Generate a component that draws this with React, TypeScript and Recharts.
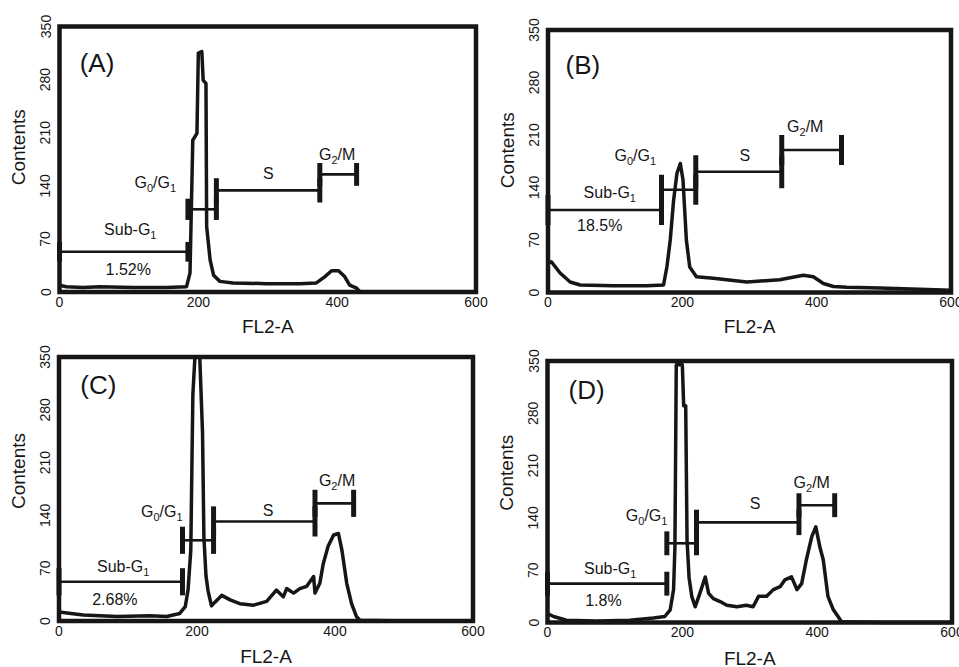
import { LineChart, Line, XAxis, YAxis, ReferenceLine, ReferenceArea, ReferenceDot } from "recharts";

const FONT = "'Liberation Sans', Arial, Helvetica, sans-serif";
const INK = "#161616";

const yTicks = [0, 70, 140, 210, 280, 350];
const xTicks = [0, 200, 400, 600];
const gateNames = ["Sub-G_1", "G_0/G_1", "S", "G_2/M"];

// (A)
const binsA = [0, 10, 34, 58, 106, 154, 183, 188, 192, 198, 200, 205, 207, 211, 212, 217, 222, 231, 250, 298, 346, 370, 382, 392, 402, 411, 418, 428, 433, 500, 600];
const countsA = [9, 7, 6, 7, 6, 6, 7, 25, 200, 209, 315, 317, 279, 275, 86, 42, 22, 14, 12, 11, 11, 12, 20, 28, 28, 20, 9, 5, 0, 0, 0];
const gatesA = [[0, 185, 53], [185, 226, 109], [226, 375, 134], [375, 428, 155]];
const pctA = "1.52%";

// (B)
const binsB = [0, 5, 18, 33, 48, 97, 147, 172, 177, 182, 187, 192, 197, 201, 206, 211, 221, 246, 296, 345, 380, 395, 410, 425, 445, 494, 600];
const countsB = [39, 41, 26, 14, 10, 9, 9, 10, 34, 70, 123, 159, 172, 150, 70, 34, 21, 19, 14, 17, 23, 21, 12, 8, 7, 6, 3];
const gatesB = [[0, 169, 110], [169, 220, 137], [220, 348, 161], [348, 437, 190]];
const pctB = "18.5%";

// (C)
const binsC = [0, 35, 84, 132, 156, 175, 183, 187, 191, 194, 197, 204, 208, 210, 213, 216, 221, 226, 236, 248, 262, 282, 301, 315, 325, 330, 340, 349, 359, 369, 371, 378, 383, 390, 398, 405, 410, 417, 424, 431, 436, 500, 600];
const countsC = [12, 8, 6, 7, 6, 10, 19, 41, 94, 300, 350, 350, 250, 111, 60, 40, 20, 25, 34, 28, 23, 21, 26, 41, 32, 43, 37, 43, 46, 59, 37, 50, 76, 99, 114, 116, 94, 50, 23, 6, 1, 0, 0];
const gatesC = [[0, 179, 52], [179, 224, 107], [224, 371, 132], [371, 427, 156]];
const pctC = "2.68%";

// (D)
const binsD = [0, 9, 28, 73, 122, 157, 174, 182, 187, 189, 191, 200, 202, 205, 207, 210, 214, 219, 226, 234, 239, 246, 256, 266, 281, 295, 305, 313, 325, 335, 345, 352, 362, 370, 377, 384, 392, 398, 404, 409, 416, 424, 431, 436, 500, 600];
const countsD = [12, 8, 3, 2, 3, 6, 8, 17, 44, 101, 345, 345, 290, 290, 110, 60, 35, 21, 39, 61, 39, 32, 28, 23, 21, 23, 21, 35, 35, 44, 48, 57, 61, 44, 52, 84, 115, 128, 101, 84, 35, 17, 8, 1, 0, 0];
const gatesD = [[0, 177, 52], [177, 221, 106], [221, 373, 134], [373, 426, 157]];
const pctD = "1.8%";

// layout per panel; labelAt = text anchors in data units: tag, Sub-G1, %, G0/G1, S, G2/M
const panels = [
  {
    id: "A", left: 0, top: 0, w: 500, h: 340, margin: { top: 26.5, right: 24, bottom: 18, left: 19.5 },
    bins: binsA, counts: countsA, gates: gatesA, pct: pctA, bar: [13, 14, 16, 15],
    titleDy: -12, xTitleDy: 41,
    labelAt: [[54, 302], [102, 82], [99, 30], [138, 144], [301, 156], [400, 181]],
  },
  {
    id: "B", left: 480, top: 0, w: 480, h: 340, margin: { top: 30, right: 9, bottom: 17.5, left: 28 },
    bins: binsB, counts: countsB, gates: gatesB, pct: pctB, bar: [20, 20, 22, 20],
    titleDy: -11, xTitleDy: 40.5,
    labelAt: [[52, 303], [92, 134], [77, 90], [130, 183], [293, 183], [383, 222]],
  },
  {
    id: "C", left: 0, top: 333, w: 500, h: 334, margin: { top: 24, right: 27, bottom: 16, left: 19 },
    bins: binsC, counts: countsC, gates: gatesC, pct: pctC, bar: [18, 18, 20, 18],
    titleDy: -18, xTitleDy: 41.5,
    labelAt: [[57, 313], [93, 72], [81, 28], [149, 145], [303, 147], [403, 186]],
  },
  {
    id: "D", left: 480, top: 333, w: 480, h: 334, margin: { top: 28, right: 8, bottom: 14.5, left: 27.5 },
    bins: binsD, counts: countsD, gates: gatesD, pct: pctD, bar: [16, 16, 17, 16],
    titleDy: -19, xTitleDy: 42,
    labelAt: [[58, 311], [93, 72], [83, 30], [147, 144], [308, 160], [392, 188]],
  },
];

const YTick = ({ x, y, payload }: any) => (
  <text x={x} y={y} transform={`rotate(-90 ${x} ${y})`} textAnchor="middle" fontSize={14} fill={INK} fontFamily={FONT}>
    {payload.value}
  </text>
);

// "G_0/G_1" -> G with subscript 0 etc.
const Rich = ({ x, y, text, size }: any) => {
  const parts = String(text).split(/_(\d)/);
  const sub = Math.round(size * 0.68);
  const shift = Math.round(size * 0.28);
  return (
    <text x={x} y={y + size * 0.35} textAnchor="middle" fontSize={size} fill={INK} fontFamily={FONT}>
      {parts.map((p, i) =>
        i % 2 === 1 ? (
          <tspan key={i} dy={shift} fontSize={sub}>{p}</tspan>
        ) : p ? (
          <tspan key={i} dy={i > 0 ? -shift : undefined}>{p}</tspan>
        ) : null
      )}
    </text>
  );
};

function Panel({ p }: any) {
  const data = p.bins.map((x: number, i: number) => ({ x, count: p.counts[i] }));
  const texts = [`(${p.id})`, gateNames[0], p.pct, gateNames[1], gateNames[2], gateNames[3]];

  const yTitle = (props: any) => {
    const vb = props.viewBox;
    const cx = vb.x + vb.width - 41;
    const cy = vb.y + vb.height / 2 + p.titleDy;
    return (
      <text x={cx} y={cy} transform={`rotate(-90 ${cx} ${cy})`} textAnchor="middle" dy="0.35em"
        fontSize={19} fill={INK} fontFamily={FONT}>Contents</text>
    );
  };
  const xTitle = (props: any) => {
    const vb = props.viewBox;
    return (
      <text x={vb.x + vb.width / 2} y={vb.y + p.xTitleDy} textAnchor="middle" fontSize={19} fill={INK} fontFamily={FONT}>
        FL2-A
      </text>
    );
  };

  return (
    <div style={{ position: "absolute", left: p.left, top: p.top }}>
      <LineChart width={p.w} height={p.h} data={data} margin={p.margin}>
        <XAxis dataKey="x" type="number" domain={[0, 600]} ticks={xTicks} interval={0}
          axisLine={false} tickLine={false} tickSize={0} tickMargin={5} height={30}
          tick={{ fontSize: 14, fill: INK, fontFamily: FONT }} label={xTitle} />
        <YAxis type="number" domain={[0, 350]} ticks={yTicks} interval={0}
          axisLine={false} tickLine={false} tickSize={0} tickMargin={9} width={40}
          tick={<YTick />} label={yTitle} />
        <ReferenceArea x1={0} x2={600} y1={0} y2={350} fill="none" fillOpacity={0} stroke={INK} strokeWidth={4.5} />
        {p.gates.map((g: number[], i: number) => (
          <ReferenceLine key={`g${i}`} segment={[{ x: g[0], y: g[2] }, { x: g[1], y: g[2] }]} stroke={INK} strokeWidth={2.6} />
        ))}
        {p.gates.map((g: number[], i: number) => (
          <ReferenceLine key={`l${i}`} segment={[{ x: g[0], y: g[2] - p.bar[i] }, { x: g[0], y: g[2] + p.bar[i] }]} stroke={INK} strokeWidth={5} />
        ))}
        {p.gates.map((g: number[], i: number) => (
          <ReferenceLine key={`r${i}`} segment={[{ x: g[1], y: g[2] - p.bar[i] }, { x: g[1], y: g[2] + p.bar[i] }]} stroke={INK} strokeWidth={5} />
        ))}
        <Line dataKey="count" type="linear" stroke={INK} strokeWidth={3.5} dot={false}
          strokeLinejoin="round" isAnimationActive={false} />
        {texts.map((t, i) => (
          <ReferenceDot key={`t${i}`} x={p.labelAt[i][0]} y={p.labelAt[i][1]} r={0}
            shape={(d: any) => <Rich x={d.cx} y={d.cy} text={t} size={i === 0 ? 26 : 16} />} />
        ))}
      </LineChart>
    </div>
  );
}

export default function App() {
  return (
    <div style={{ position: "absolute", left: 0, top: 0, width: 959, height: 667, background: "#fff", overflow: "hidden" }}>
      {panels.map((p) => (
        <Panel key={p.id} p={p} />
      ))}
    </div>
  );
}
